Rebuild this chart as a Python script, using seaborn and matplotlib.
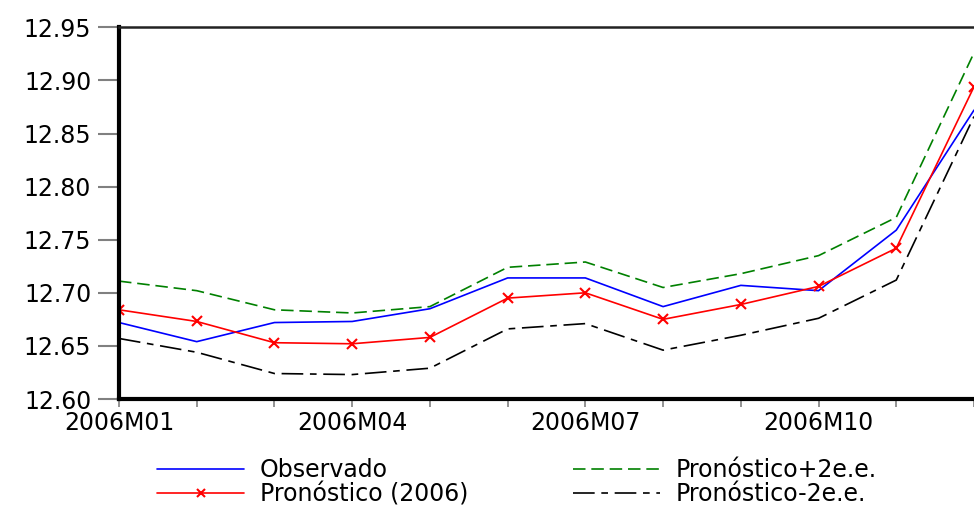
import matplotlib
matplotlib.use("Agg")
import matplotlib.pyplot as plt
from matplotlib.lines import Line2D
import seaborn as sns
import numpy as np
import pandas as pd

months = ["2006M01", "2006M02", "2006M03", "2006M04", "2006M05", "2006M06",
          "2006M07", "2006M08", "2006M09", "2006M10", "2006M11", "2006M12"]
observado = [12.672, 12.654, 12.672, 12.673, 12.685, 12.714, 12.714, 12.687,
             12.707, 12.702, 12.759, 12.872]
pronostico = [12.684, 12.673, 12.653, 12.652, 12.658, 12.695, 12.700, 12.675,
              12.689, 12.706, 12.742, 12.894]
upper = [12.711, 12.702, 12.684, 12.681, 12.687, 12.724, 12.729, 12.705,
         12.718, 12.735, 12.771, 12.926]
lower = [12.657, 12.644, 12.624, 12.623, 12.629, 12.666, 12.671, 12.646,
         12.660, 12.676, 12.712, 12.866]
label_months = ["2006M01", "2006M04", "2006M07", "2006M10"]
yticks = [12.60, 12.65, 12.70, 12.75, 12.80, 12.85, 12.90, 12.95]

sns.set_style("white")
plt.rcParams['font.family'] = ['DejaVu Sans']
plt.rcParams['text.color'] = 'black'

df = pd.DataFrame({"idx": np.arange(len(months)), "mes": months,
                   "obs": observado, "fc": pronostico, "up": upper, "lo": lower})

fig = plt.figure(figsize=(9.74, 5.05), dpi=100)
ax = fig.add_axes([119 / 974, 1 - 399 / 505, 1 - 119 / 974, (399 - 27.3) / 505])

green_ls = (0, (7.5, 3.5))
black_ls = (0, (13, 4, 4, 4))

sns.lineplot(data=df, x="idx", y="up", ax=ax, color="#008000", lw=1.2, linestyle=green_ls)
sns.lineplot(data=df, x="idx", y="lo", ax=ax, color="black", lw=1.2, linestyle=black_ls)
sns.lineplot(data=df, x="idx", y="obs", ax=ax, color="#0000ff", lw=1.2)
sns.lineplot(data=df, x="idx", y="fc", ax=ax, color="#ff0000", lw=1.2,
             marker="x", markersize=6.5, markeredgewidth=1.5, markeredgecolor="#ff0000")

ax.set_xlim(0, (974 - 119) / 78.2)
ax.set_ylim(12.60, 12.95)
ax.set_yticks(yticks)
ax.set_yticklabels([f"{v:.2f}" for v in yticks])
ax.set_xticks(df["idx"])
ax.set_xticklabels([m if m in label_months else "" for m in months])
ax.set_xlabel("")
ax.set_ylabel("")

ax.tick_params(axis="y", direction="out", length=15, width=1.5, color="#808080",
               labelsize=17, labelcolor="black", pad=5, left=True)
ax.tick_params(axis="x", direction="out", length=6, width=1.2, color="#808080",
               labelsize=17, labelcolor="black", pad=3, bottom=True)

for s in ["left", "bottom"]:
    ax.spines[s].set_linewidth(3)
    ax.spines[s].set_color("black")
ax.spines["top"].set_linewidth(1.8)
ax.spines["top"].set_color("#222222")
ax.spines["right"].set_visible(False)

h_obs = Line2D([], [], color="#0000ff", lw=1.2)
h_fc = Line2D([], [], color="#ff0000", lw=1.2, marker="x", markersize=6, markeredgewidth=1.5)
h_up = Line2D([], [], color="#008000", lw=1.2, linestyle=green_ls)
h_lo = Line2D([], [], color="black", lw=1.2, linestyle=black_ls)

common = dict(frameon=False, fontsize=17, handlelength=3.7, handletextpad=0.65,
              borderpad=0, borderaxespad=0, labelspacing=0.02, loc="upper left",
              labelcolor="black")
leg1 = fig.legend([h_obs, h_fc], ["Observado", "Pronóstico (2006)"],
                  bbox_to_anchor=(157 / 974, 1 - 458 / 505), **common)
leg2 = fig.legend([h_up, h_lo], ["Pronóstico+2e.e.", "Pronóstico-2e.e."],
                  bbox_to_anchor=(573 / 974, 1 - 458 / 505), **common)

fig.savefig("out.png", dpi=100)
